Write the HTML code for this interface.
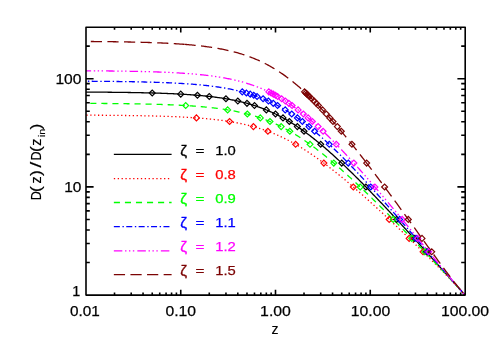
<!DOCTYPE html>
<html><head><meta charset="utf-8"><title>Growth factor</title>
<style>html,body{margin:0;padding:0;background:#fff}body{width:491px;height:350px;overflow:hidden;font-family:"Liberation Sans",sans-serif}</style></head>
<body>
<svg width="491" height="350" viewBox="0 0 491 350" style="display:block;will-change:transform">
<rect width="491" height="350" fill="#fff"/>
<g fill="none" stroke-width="1.3" stroke-linejoin="round">
<path d="M86.00 92.07 L87.06 92.08 L88.11 92.09 L89.17 92.09 L90.22 92.10 L91.28 92.10 L92.33 92.11 L93.39 92.12 L94.45 92.12 L95.50 92.13 L96.56 92.14 L97.61 92.15 L98.67 92.15 L99.72 92.16 L100.78 92.17 L101.84 92.18 L102.89 92.19 L103.95 92.20 L105.00 92.21 L106.06 92.22 L107.11 92.22 L108.17 92.23 L109.23 92.24 L110.28 92.26 L111.34 92.27 L112.39 92.28 L113.45 92.29 L114.50 92.30 L115.56 92.31 L116.62 92.32 L117.67 92.34 L118.73 92.35 L119.78 92.36 L120.84 92.37 L121.89 92.39 L122.95 92.40 L124.01 92.42 L125.06 92.43 L126.12 92.45 L127.17 92.46 L128.23 92.48 L129.28 92.50 L130.34 92.51 L131.40 92.53 L132.45 92.55 L133.51 92.57 L134.56 92.58 L135.62 92.60 L136.67 92.62 L137.73 92.64 L138.79 92.66 L139.84 92.69 L140.90 92.71 L141.95 92.73 L143.01 92.75 L144.06 92.78 L145.12 92.80 L146.18 92.83 L147.23 92.85 L148.29 92.88 L149.34 92.90 L150.40 92.93 L151.45 92.96 L152.51 92.99 L153.57 93.02 L154.62 93.05 L155.68 93.08 L156.73 93.11 L157.79 93.15 L158.84 93.18 L159.90 93.22 L160.96 93.25 L162.01 93.29 L163.07 93.33 L164.12 93.36 L165.18 93.40 L166.23 93.44 L167.29 93.49 L168.35 93.53 L169.40 93.57 L170.46 93.62 L171.51 93.66 L172.57 93.71 L173.62 93.76 L174.68 93.81 L175.74 93.86 L176.79 93.92 L177.85 93.97 L178.90 94.03 L179.96 94.08 L181.01 94.14 L182.07 94.20 L183.13 94.26 L184.18 94.33 L185.24 94.39 L186.29 94.46 L187.35 94.53 L188.40 94.60 L189.46 94.67 L190.52 94.74 L191.57 94.82 L192.63 94.90 L193.68 94.98 L194.74 95.06 L195.79 95.14 L196.85 95.23 L197.91 95.32 L198.96 95.41 L200.02 95.50 L201.07 95.60 L202.13 95.70 L203.18 95.80 L204.24 95.90 L205.30 96.01 L206.35 96.12 L207.41 96.23 L208.46 96.34 L209.52 96.46 L210.57 96.58 L211.63 96.71 L212.69 96.83 L213.74 96.96 L214.80 97.10 L215.85 97.24 L216.91 97.38 L217.96 97.52 L219.02 97.67 L220.08 97.82 L221.13 97.98 L222.19 98.14 L223.24 98.31 L224.30 98.47 L225.35 98.65 L226.41 98.82 L227.47 99.01 L228.52 99.19 L229.58 99.38 L230.63 99.58 L231.69 99.78 L232.74 99.99 L233.80 100.20 L234.86 100.42 L235.91 100.64 L236.97 100.87 L238.02 101.10 L239.08 101.34 L240.13 101.58 L241.19 101.84 L242.25 102.09 L243.30 102.36 L244.36 102.63 L245.41 102.90 L246.47 103.19 L247.52 103.48 L248.58 103.77 L249.64 104.08 L250.69 104.39 L251.75 104.70 L252.80 105.03 L253.86 105.36 L254.91 105.70 L255.97 106.05 L257.03 106.41 L258.08 106.77 L259.14 107.14 L260.19 107.52 L261.25 107.91 L262.30 108.31 L263.36 108.71 L264.42 109.13 L265.47 109.55 L266.53 109.98 L267.58 110.42 L268.64 110.87 L269.69 111.32 L270.75 111.79 L271.81 112.27 L272.86 112.75 L273.92 113.24 L274.97 113.75 L276.03 114.26 L277.08 114.78 L278.14 115.31 L279.19 115.86 L280.25 116.41 L281.31 116.97 L282.36 117.53 L283.42 118.11 L284.47 118.70 L285.53 119.30 L286.58 119.91 L287.64 120.52 L288.70 121.15 L289.75 121.78 L290.81 122.43 L291.86 123.08 L292.92 123.75 L293.97 124.42 L295.03 125.10 L296.09 125.79 L297.14 126.49 L298.20 127.20 L299.25 127.92 L300.31 128.65 L301.36 129.38 L302.42 130.13 L303.48 130.88 L304.53 131.64 L305.59 132.41 L306.64 133.19 L307.70 133.98 L308.75 134.77 L309.81 135.58 L310.87 136.39 L311.92 137.21 L312.98 138.03 L314.03 138.87 L315.09 139.71 L316.14 140.56 L317.20 141.41 L318.26 142.27 L319.31 143.15 L320.37 144.02 L321.42 144.91 L322.48 145.80 L323.53 146.69 L324.59 147.60 L325.65 148.51 L326.70 149.43 L327.76 150.35 L328.81 151.28 L329.87 152.21 L330.92 153.15 L331.98 154.10 L333.04 155.05 L334.09 156.01 L335.15 156.97 L336.20 157.94 L337.26 158.91 L338.31 159.89 L339.37 160.87 L340.43 161.86 L341.48 162.85 L342.54 163.85 L343.59 164.85 L344.65 165.86 L345.70 166.87 L346.76 167.89 L347.82 168.91 L348.87 169.93 L349.93 170.96 L350.98 171.99 L352.04 173.03 L353.09 174.07 L354.15 175.11 L355.21 176.16 L356.26 177.21 L357.32 178.26 L358.37 179.32 L359.43 180.38 L360.48 181.44 L361.54 182.51 L362.60 183.58 L363.65 184.65 L364.71 185.73 L365.76 186.81 L366.82 187.89 L367.87 188.98 L368.93 190.06 L369.99 191.15 L371.04 192.25 L372.10 193.34 L373.15 194.44 L374.21 195.54 L375.26 196.64 L376.32 197.75 L377.38 198.86 L378.43 199.96 L379.49 201.08 L380.54 202.19 L381.60 203.31 L382.65 204.42 L383.71 205.54 L384.77 206.66 L385.82 207.79 L386.88 208.91 L387.93 210.04 L388.99 211.17 L390.04 212.30 L391.10 213.43 L392.16 214.56 L393.21 215.70 L394.27 216.84 L395.32 217.97 L396.38 219.11 L397.43 220.25 L398.49 221.40 L399.55 222.54 L400.60 223.68 L401.66 224.83 L402.71 225.98 L403.77 227.13 L404.82 228.28 L405.88 229.43 L406.94 230.58 L407.99 231.73 L409.05 232.89 L410.10 234.04 L411.16 235.20 L412.21 236.35 L413.27 237.51 L414.33 238.67 L415.38 239.83 L416.44 240.99 L417.49 242.15 L418.55 243.32 L419.60 244.48 L420.66 245.64 L421.72 246.81 L422.77 247.97 L423.83 249.14 L424.88 250.30 L425.94 251.47 L426.99 252.64 L428.05 253.81 L429.11 254.98 L430.16 256.15 L431.22 257.32 L432.27 258.49 L433.33 259.66 L434.38 260.83 L435.44 262.01 L436.50 263.18 L437.55 264.35 L438.61 265.53 L439.66 266.70 L440.72 267.88 L441.77 269.06 L442.83 270.23 L443.89 271.41 L444.94 272.59 L446.00 273.77 L447.05 274.95 L448.11 276.13 L449.16 277.31 L450.22 278.49 L451.28 279.67 L452.33 280.85 L453.39 282.03 L454.44 283.22 L455.50 284.40 L456.55 285.59 L457.61 286.77 L458.67 287.96 L459.72 289.15 L460.78 290.34 L461.83 291.52 L462.89 292.72 L463.94 293.91 L465.00 295.10" stroke="#000000"/>
<path d="M86.00 115.17 L87.06 115.17 L88.11 115.18 L89.17 115.18 L90.22 115.19 L91.28 115.19 L92.33 115.20 L93.39 115.20 L94.45 115.21 L95.50 115.22 L96.56 115.22 L97.61 115.23 L98.67 115.24 L99.72 115.24 L100.78 115.25 L101.84 115.26 L102.89 115.27 L103.95 115.27 L105.00 115.28 L106.06 115.29 L107.11 115.30 L108.17 115.31 L109.23 115.32 L110.28 115.32 L111.34 115.33 L112.39 115.34 L113.45 115.35 L114.50 115.36 L115.56 115.37 L116.62 115.38 L117.67 115.39 L118.73 115.41 L119.78 115.42 L120.84 115.43 L121.89 115.44 L122.95 115.45 L124.01 115.47 L125.06 115.48 L126.12 115.49 L127.17 115.51 L128.23 115.52 L129.28 115.53 L130.34 115.55 L131.40 115.56 L132.45 115.58 L133.51 115.59 L134.56 115.61 L135.62 115.63 L136.67 115.65 L137.73 115.66 L138.79 115.68 L139.84 115.70 L140.90 115.72 L141.95 115.74 L143.01 115.76 L144.06 115.78 L145.12 115.80 L146.18 115.82 L147.23 115.84 L148.29 115.87 L149.34 115.89 L150.40 115.91 L151.45 115.94 L152.51 115.96 L153.57 115.99 L154.62 116.02 L155.68 116.04 L156.73 116.07 L157.79 116.10 L158.84 116.13 L159.90 116.16 L160.96 116.19 L162.01 116.22 L163.07 116.26 L164.12 116.29 L165.18 116.33 L166.23 116.36 L167.29 116.40 L168.35 116.43 L169.40 116.47 L170.46 116.51 L171.51 116.55 L172.57 116.59 L173.62 116.64 L174.68 116.68 L175.74 116.72 L176.79 116.77 L177.85 116.82 L178.90 116.87 L179.96 116.92 L181.01 116.97 L182.07 117.02 L183.13 117.07 L184.18 117.13 L185.24 117.19 L186.29 117.24 L187.35 117.30 L188.40 117.36 L189.46 117.43 L190.52 117.49 L191.57 117.56 L192.63 117.63 L193.68 117.69 L194.74 117.77 L195.79 117.84 L196.85 117.92 L197.91 117.99 L198.96 118.07 L200.02 118.15 L201.07 118.24 L202.13 118.32 L203.18 118.41 L204.24 118.50 L205.30 118.59 L206.35 118.69 L207.41 118.79 L208.46 118.89 L209.52 118.99 L210.57 119.09 L211.63 119.20 L212.69 119.31 L213.74 119.43 L214.80 119.55 L215.85 119.67 L216.91 119.79 L217.96 119.91 L219.02 120.04 L220.08 120.18 L221.13 120.31 L222.19 120.45 L223.24 120.60 L224.30 120.74 L225.35 120.89 L226.41 121.05 L227.47 121.21 L228.52 121.37 L229.58 121.54 L230.63 121.71 L231.69 121.88 L232.74 122.06 L233.80 122.25 L234.86 122.44 L235.91 122.63 L236.97 122.83 L238.02 123.03 L239.08 123.24 L240.13 123.46 L241.19 123.68 L242.25 123.90 L243.30 124.13 L244.36 124.37 L245.41 124.61 L246.47 124.85 L247.52 125.11 L248.58 125.37 L249.64 125.63 L250.69 125.90 L251.75 126.18 L252.80 126.46 L253.86 126.75 L254.91 127.05 L255.97 127.35 L257.03 127.66 L258.08 127.98 L259.14 128.31 L260.19 128.64 L261.25 128.98 L262.30 129.32 L263.36 129.68 L264.42 130.04 L265.47 130.40 L266.53 130.78 L267.58 131.16 L268.64 131.56 L269.69 131.96 L270.75 132.36 L271.81 132.78 L272.86 133.20 L273.92 133.63 L274.97 134.07 L276.03 134.52 L277.08 134.97 L278.14 135.44 L279.19 135.91 L280.25 136.39 L281.31 136.88 L282.36 137.38 L283.42 137.88 L284.47 138.40 L285.53 138.92 L286.58 139.45 L287.64 139.99 L288.70 140.53 L289.75 141.09 L290.81 141.65 L291.86 142.22 L292.92 142.80 L293.97 143.39 L295.03 143.99 L296.09 144.59 L297.14 145.20 L298.20 145.82 L299.25 146.45 L300.31 147.08 L301.36 147.73 L302.42 148.38 L303.48 149.03 L304.53 149.70 L305.59 150.37 L306.64 151.05 L307.70 151.74 L308.75 152.43 L309.81 153.13 L310.87 153.84 L311.92 154.56 L312.98 155.28 L314.03 156.01 L315.09 156.74 L316.14 157.48 L317.20 158.23 L318.26 158.99 L319.31 159.75 L320.37 160.51 L321.42 161.28 L322.48 162.06 L323.53 162.85 L324.59 163.64 L325.65 164.43 L326.70 165.23 L327.76 166.04 L328.81 166.85 L329.87 167.67 L330.92 168.49 L331.98 169.32 L333.04 170.15 L334.09 170.98 L335.15 171.82 L336.20 172.67 L337.26 173.52 L338.31 174.38 L339.37 175.23 L340.43 176.10 L341.48 176.97 L342.54 177.84 L343.59 178.71 L344.65 179.59 L345.70 180.48 L346.76 181.36 L347.82 182.25 L348.87 183.15 L349.93 184.05 L350.98 184.95 L352.04 185.85 L353.09 186.76 L354.15 187.67 L355.21 188.59 L356.26 189.51 L357.32 190.43 L358.37 191.35 L359.43 192.28 L360.48 193.21 L361.54 194.14 L362.60 195.08 L363.65 196.02 L364.71 196.96 L365.76 197.90 L366.82 198.85 L367.87 199.80 L368.93 200.75 L369.99 201.70 L371.04 202.66 L372.10 203.61 L373.15 204.57 L374.21 205.54 L375.26 206.50 L376.32 207.47 L377.38 208.44 L378.43 209.41 L379.49 210.38 L380.54 211.35 L381.60 212.33 L382.65 213.31 L383.71 214.29 L384.77 215.27 L385.82 216.25 L386.88 217.24 L387.93 218.22 L388.99 219.21 L390.04 220.20 L391.10 221.19 L392.16 222.19 L393.21 223.18 L394.27 224.18 L395.32 225.17 L396.38 226.17 L397.43 227.17 L398.49 228.18 L399.55 229.18 L400.60 230.18 L401.66 231.19 L402.71 232.20 L403.77 233.21 L404.82 234.22 L405.88 235.23 L406.94 236.24 L407.99 237.25 L409.05 238.27 L410.10 239.29 L411.16 240.30 L412.21 241.32 L413.27 242.34 L414.33 243.36 L415.38 244.39 L416.44 245.41 L417.49 246.44 L418.55 247.46 L419.60 248.49 L420.66 249.52 L421.72 250.55 L422.77 251.59 L423.83 252.62 L424.88 253.66 L425.94 254.69 L426.99 255.73 L428.05 256.77 L429.11 257.82 L430.16 258.86 L431.22 259.91 L432.27 260.95 L433.33 262.00 L434.38 263.05 L435.44 264.11 L436.50 265.16 L437.55 266.22 L438.61 267.28 L439.66 268.35 L440.72 269.41 L441.77 270.48 L442.83 271.55 L443.89 272.63 L444.94 273.70 L446.00 274.78 L447.05 275.87 L448.11 276.96 L449.16 278.05 L450.22 279.15 L451.28 280.25 L452.33 281.35 L453.39 282.46 L454.44 283.58 L455.50 284.70 L456.55 285.83 L457.61 286.96 L458.67 288.10 L459.72 289.25 L460.78 290.40 L461.83 291.56 L462.89 292.73 L463.94 293.91 L465.00 295.10" stroke="#ff0000" stroke-dasharray="1.3 2.56" stroke-dashoffset="3.46"/>
<path d="M86.00 103.36 L87.06 103.37 L88.11 103.38 L89.17 103.38 L90.22 103.39 L91.28 103.39 L92.33 103.40 L93.39 103.41 L94.45 103.41 L95.50 103.42 L96.56 103.43 L97.61 103.43 L98.67 103.44 L99.72 103.45 L100.78 103.46 L101.84 103.46 L102.89 103.47 L103.95 103.48 L105.00 103.49 L106.06 103.50 L107.11 103.51 L108.17 103.52 L109.23 103.53 L110.28 103.53 L111.34 103.54 L112.39 103.56 L113.45 103.57 L114.50 103.58 L115.56 103.59 L116.62 103.60 L117.67 103.61 L118.73 103.62 L119.78 103.63 L120.84 103.65 L121.89 103.66 L122.95 103.67 L124.01 103.69 L125.06 103.70 L126.12 103.71 L127.17 103.73 L128.23 103.74 L129.28 103.76 L130.34 103.78 L131.40 103.79 L132.45 103.81 L133.51 103.83 L134.56 103.84 L135.62 103.86 L136.67 103.88 L137.73 103.90 L138.79 103.92 L139.84 103.94 L140.90 103.96 L141.95 103.98 L143.01 104.00 L144.06 104.02 L145.12 104.05 L146.18 104.07 L147.23 104.09 L148.29 104.12 L149.34 104.14 L150.40 104.17 L151.45 104.20 L152.51 104.22 L153.57 104.25 L154.62 104.28 L155.68 104.31 L156.73 104.34 L157.79 104.37 L158.84 104.40 L159.90 104.43 L160.96 104.47 L162.01 104.50 L163.07 104.54 L164.12 104.57 L165.18 104.61 L166.23 104.65 L167.29 104.69 L168.35 104.73 L169.40 104.77 L170.46 104.81 L171.51 104.86 L172.57 104.90 L173.62 104.95 L174.68 104.99 L175.74 105.04 L176.79 105.09 L177.85 105.14 L178.90 105.19 L179.96 105.25 L181.01 105.30 L182.07 105.36 L183.13 105.42 L184.18 105.48 L185.24 105.54 L186.29 105.60 L187.35 105.66 L188.40 105.73 L189.46 105.80 L190.52 105.87 L191.57 105.94 L192.63 106.01 L193.68 106.09 L194.74 106.16 L195.79 106.24 L196.85 106.32 L197.91 106.41 L198.96 106.49 L200.02 106.58 L201.07 106.67 L202.13 106.76 L203.18 106.86 L204.24 106.95 L205.30 107.05 L206.35 107.15 L207.41 107.26 L208.46 107.37 L209.52 107.48 L210.57 107.59 L211.63 107.71 L212.69 107.83 L213.74 107.95 L214.80 108.08 L215.85 108.20 L216.91 108.34 L217.96 108.47 L219.02 108.61 L220.08 108.75 L221.13 108.90 L222.19 109.05 L223.24 109.21 L224.30 109.36 L225.35 109.53 L226.41 109.69 L227.47 109.86 L228.52 110.04 L229.58 110.22 L230.63 110.40 L231.69 110.59 L232.74 110.78 L233.80 110.98 L234.86 111.19 L235.91 111.39 L236.97 111.61 L238.02 111.83 L239.08 112.05 L240.13 112.28 L241.19 112.52 L242.25 112.76 L243.30 113.01 L244.36 113.26 L245.41 113.52 L246.47 113.78 L247.52 114.05 L248.58 114.33 L249.64 114.62 L250.69 114.91 L251.75 115.21 L252.80 115.51 L253.86 115.82 L254.91 116.14 L255.97 116.47 L257.03 116.80 L258.08 117.14 L259.14 117.49 L260.19 117.85 L261.25 118.21 L262.30 118.59 L263.36 118.97 L264.42 119.35 L265.47 119.75 L266.53 120.15 L267.58 120.57 L268.64 120.99 L269.69 121.42 L270.75 121.85 L271.81 122.30 L272.86 122.75 L273.92 123.22 L274.97 123.69 L276.03 124.17 L277.08 124.66 L278.14 125.16 L279.19 125.67 L280.25 126.18 L281.31 126.71 L282.36 127.24 L283.42 127.79 L284.47 128.34 L285.53 128.90 L286.58 129.47 L287.64 130.05 L288.70 130.63 L289.75 131.23 L290.81 131.84 L291.86 132.45 L292.92 133.07 L293.97 133.70 L295.03 134.34 L296.09 134.99 L297.14 135.65 L298.20 136.31 L299.25 136.99 L300.31 137.67 L301.36 138.36 L302.42 139.06 L303.48 139.77 L304.53 140.48 L305.59 141.20 L306.64 141.93 L307.70 142.67 L308.75 143.42 L309.81 144.17 L310.87 144.93 L311.92 145.70 L312.98 146.48 L314.03 147.26 L315.09 148.05 L316.14 148.85 L317.20 149.65 L318.26 150.46 L319.31 151.28 L320.37 152.10 L321.42 152.93 L322.48 153.76 L323.53 154.61 L324.59 155.46 L325.65 156.31 L326.70 157.17 L327.76 158.04 L328.81 158.91 L329.87 159.78 L330.92 160.67 L331.98 161.55 L333.04 162.45 L334.09 163.35 L335.15 164.25 L336.20 165.16 L337.26 166.07 L338.31 166.99 L339.37 167.91 L340.43 168.84 L341.48 169.77 L342.54 170.71 L343.59 171.65 L344.65 172.59 L345.70 173.54 L346.76 174.50 L347.82 175.45 L348.87 176.41 L349.93 177.38 L350.98 178.35 L352.04 179.32 L353.09 180.30 L354.15 181.27 L355.21 182.26 L356.26 183.24 L357.32 184.23 L358.37 185.23 L359.43 186.22 L360.48 187.22 L361.54 188.22 L362.60 189.23 L363.65 190.23 L364.71 191.24 L365.76 192.26 L366.82 193.27 L367.87 194.29 L368.93 195.31 L369.99 196.34 L371.04 197.36 L372.10 198.39 L373.15 199.42 L374.21 200.45 L375.26 201.49 L376.32 202.53 L377.38 203.57 L378.43 204.61 L379.49 205.65 L380.54 206.70 L381.60 207.74 L382.65 208.79 L383.71 209.85 L384.77 210.90 L385.82 211.95 L386.88 213.01 L387.93 214.07 L388.99 215.13 L390.04 216.19 L391.10 217.25 L392.16 218.32 L393.21 219.39 L394.27 220.45 L395.32 221.52 L396.38 222.59 L397.43 223.67 L398.49 224.74 L399.55 225.81 L400.60 226.89 L401.66 227.97 L402.71 229.05 L403.77 230.13 L404.82 231.21 L405.88 232.29 L406.94 233.37 L407.99 234.46 L409.05 235.55 L410.10 236.63 L411.16 237.72 L412.21 238.81 L413.27 239.90 L414.33 240.99 L415.38 242.08 L416.44 243.18 L417.49 244.27 L418.55 245.37 L419.60 246.47 L420.66 247.56 L421.72 248.66 L422.77 249.76 L423.83 250.86 L424.88 251.97 L425.94 253.07 L426.99 254.17 L428.05 255.28 L429.11 256.39 L430.16 257.49 L431.22 258.60 L432.27 259.71 L433.33 260.82 L434.38 261.94 L435.44 263.05 L436.50 264.17 L437.55 265.28 L438.61 266.40 L439.66 267.52 L440.72 268.64 L441.77 269.77 L442.83 270.89 L443.89 272.02 L444.94 273.14 L446.00 274.27 L447.05 275.41 L448.11 276.54 L449.16 277.68 L450.22 278.82 L451.28 279.96 L452.33 281.10 L453.39 282.25 L454.44 283.40 L455.50 284.55 L456.55 285.71 L457.61 286.87 L458.67 288.03 L459.72 289.20 L460.78 290.37 L461.83 291.54 L462.89 292.72 L463.94 293.91 L465.00 295.10" stroke="#00ff00" stroke-dasharray="6.1 4.95" stroke-dashoffset="6.75"/>
<path d="M86.00 81.23 L87.06 81.24 L88.11 81.24 L89.17 81.25 L90.22 81.26 L91.28 81.26 L92.33 81.27 L93.39 81.28 L94.45 81.29 L95.50 81.29 L96.56 81.30 L97.61 81.31 L98.67 81.32 L99.72 81.33 L100.78 81.33 L101.84 81.34 L102.89 81.35 L103.95 81.36 L105.00 81.37 L106.06 81.38 L107.11 81.39 L108.17 81.40 L109.23 81.41 L110.28 81.42 L111.34 81.43 L112.39 81.45 L113.45 81.46 L114.50 81.47 L115.56 81.48 L116.62 81.50 L117.67 81.51 L118.73 81.52 L119.78 81.54 L120.84 81.55 L121.89 81.57 L122.95 81.58 L124.01 81.60 L125.06 81.61 L126.12 81.63 L127.17 81.64 L128.23 81.66 L129.28 81.68 L130.34 81.70 L131.40 81.71 L132.45 81.73 L133.51 81.75 L134.56 81.77 L135.62 81.79 L136.67 81.81 L137.73 81.84 L138.79 81.86 L139.84 81.88 L140.90 81.90 L141.95 81.93 L143.01 81.95 L144.06 81.98 L145.12 82.00 L146.18 82.03 L147.23 82.06 L148.29 82.08 L149.34 82.11 L150.40 82.14 L151.45 82.17 L152.51 82.20 L153.57 82.23 L154.62 82.27 L155.68 82.30 L156.73 82.33 L157.79 82.37 L158.84 82.40 L159.90 82.44 L160.96 82.48 L162.01 82.52 L163.07 82.56 L164.12 82.60 L165.18 82.64 L166.23 82.68 L167.29 82.73 L168.35 82.77 L169.40 82.82 L170.46 82.87 L171.51 82.92 L172.57 82.97 L173.62 83.02 L174.68 83.07 L175.74 83.13 L176.79 83.18 L177.85 83.24 L178.90 83.30 L179.96 83.36 L181.01 83.42 L182.07 83.49 L183.13 83.55 L184.18 83.62 L185.24 83.69 L186.29 83.76 L187.35 83.83 L188.40 83.91 L189.46 83.98 L190.52 84.06 L191.57 84.14 L192.63 84.22 L193.68 84.31 L194.74 84.39 L195.79 84.48 L196.85 84.58 L197.91 84.67 L198.96 84.77 L200.02 84.87 L201.07 84.97 L202.13 85.07 L203.18 85.18 L204.24 85.29 L205.30 85.40 L206.35 85.52 L207.41 85.64 L208.46 85.76 L209.52 85.88 L210.57 86.01 L211.63 86.14 L212.69 86.28 L213.74 86.42 L214.80 86.56 L215.85 86.70 L216.91 86.85 L217.96 87.01 L219.02 87.16 L220.08 87.33 L221.13 87.49 L222.19 87.66 L223.24 87.84 L224.30 88.01 L225.35 88.20 L226.41 88.39 L227.47 88.58 L228.52 88.78 L229.58 88.98 L230.63 89.19 L231.69 89.40 L232.74 89.62 L233.80 89.84 L234.86 90.07 L235.91 90.31 L236.97 90.55 L238.02 90.80 L239.08 91.05 L240.13 91.31 L241.19 91.58 L242.25 91.85 L243.30 92.13 L244.36 92.41 L245.41 92.71 L246.47 93.01 L247.52 93.31 L248.58 93.63 L249.64 93.95 L250.69 94.28 L251.75 94.61 L252.80 94.96 L253.86 95.31 L254.91 95.67 L255.97 96.04 L257.03 96.42 L258.08 96.80 L259.14 97.20 L260.19 97.60 L261.25 98.01 L262.30 98.43 L263.36 98.86 L264.42 99.30 L265.47 99.74 L266.53 100.20 L267.58 100.67 L268.64 101.14 L269.69 101.62 L270.75 102.12 L271.81 102.62 L272.86 103.14 L273.92 103.66 L274.97 104.19 L276.03 104.74 L277.08 105.29 L278.14 105.85 L279.19 106.42 L280.25 107.01 L281.31 107.60 L282.36 108.20 L283.42 108.81 L284.47 109.44 L285.53 110.07 L286.58 110.71 L287.64 111.37 L288.70 112.03 L289.75 112.70 L290.81 113.38 L291.86 114.08 L292.92 114.78 L293.97 115.49 L295.03 116.21 L296.09 116.95 L297.14 117.69 L298.20 118.44 L299.25 119.20 L300.31 119.97 L301.36 120.75 L302.42 121.54 L303.48 122.33 L304.53 123.14 L305.59 123.95 L306.64 124.78 L307.70 125.61 L308.75 126.45 L309.81 127.30 L310.87 128.16 L311.92 129.03 L312.98 129.90 L314.03 130.79 L315.09 131.68 L316.14 132.58 L317.20 133.48 L318.26 134.40 L319.31 135.32 L320.37 136.25 L321.42 137.18 L322.48 138.12 L323.53 139.07 L324.59 140.03 L325.65 141.00 L326.70 141.97 L327.76 142.94 L328.81 143.93 L329.87 144.92 L330.92 145.91 L331.98 146.91 L333.04 147.92 L334.09 148.93 L335.15 149.95 L336.20 150.98 L337.26 152.01 L338.31 153.04 L339.37 154.08 L340.43 155.13 L341.48 156.18 L342.54 157.24 L343.59 158.30 L344.65 159.36 L345.70 160.44 L346.76 161.51 L347.82 162.59 L348.87 163.67 L349.93 164.76 L350.98 165.85 L352.04 166.95 L353.09 168.05 L354.15 169.16 L355.21 170.26 L356.26 171.38 L357.32 172.49 L358.37 173.61 L359.43 174.73 L360.48 175.86 L361.54 176.99 L362.60 178.12 L363.65 179.26 L364.71 180.40 L365.76 181.54 L366.82 182.69 L367.87 183.83 L368.93 184.99 L369.99 186.14 L371.04 187.30 L372.10 188.46 L373.15 189.62 L374.21 190.78 L375.26 191.95 L376.32 193.12 L377.38 194.29 L378.43 195.46 L379.49 196.64 L380.54 197.82 L381.60 199.00 L382.65 200.18 L383.71 201.37 L384.77 202.55 L385.82 203.74 L386.88 204.93 L387.93 206.13 L388.99 207.32 L390.04 208.52 L391.10 209.71 L392.16 210.91 L393.21 212.11 L394.27 213.32 L395.32 214.52 L396.38 215.73 L397.43 216.93 L398.49 218.14 L399.55 219.35 L400.60 220.56 L401.66 221.77 L402.71 222.99 L403.77 224.20 L404.82 225.42 L405.88 226.63 L406.94 227.85 L407.99 229.07 L409.05 230.29 L410.10 231.51 L411.16 232.73 L412.21 233.95 L413.27 235.17 L414.33 236.40 L415.38 237.62 L416.44 238.85 L417.49 240.07 L418.55 241.30 L419.60 242.53 L420.66 243.75 L421.72 244.98 L422.77 246.21 L423.83 247.44 L424.88 248.67 L425.94 249.90 L426.99 251.13 L428.05 252.36 L429.11 253.59 L430.16 254.82 L431.22 256.05 L432.27 257.28 L433.33 258.51 L434.38 259.74 L435.44 260.97 L436.50 262.20 L437.55 263.43 L438.61 264.66 L439.66 265.89 L440.72 267.12 L441.77 268.35 L442.83 269.58 L443.89 270.81 L444.94 272.04 L446.00 273.26 L447.05 274.49 L448.11 275.71 L449.16 276.94 L450.22 278.16 L451.28 279.38 L452.33 280.60 L453.39 281.82 L454.44 283.04 L455.50 284.25 L456.55 285.47 L457.61 286.68 L458.67 287.89 L459.72 289.10 L460.78 290.30 L461.83 291.51 L462.89 292.71 L463.94 293.90 L465.00 295.10" stroke="#0000ff" stroke-dasharray="6 2.6 1.4 2.4" stroke-dashoffset="6.7"/>
<path d="M86.00 70.79 L87.06 70.79 L88.11 70.80 L89.17 70.81 L90.22 70.81 L91.28 70.82 L92.33 70.83 L93.39 70.84 L94.45 70.84 L95.50 70.85 L96.56 70.86 L97.61 70.87 L98.67 70.88 L99.72 70.89 L100.78 70.90 L101.84 70.91 L102.89 70.92 L103.95 70.92 L105.00 70.94 L106.06 70.95 L107.11 70.96 L108.17 70.97 L109.23 70.98 L110.28 70.99 L111.34 71.00 L112.39 71.01 L113.45 71.03 L114.50 71.04 L115.56 71.05 L116.62 71.07 L117.67 71.08 L118.73 71.09 L119.78 71.11 L120.84 71.12 L121.89 71.14 L122.95 71.15 L124.01 71.17 L125.06 71.19 L126.12 71.20 L127.17 71.22 L128.23 71.24 L129.28 71.26 L130.34 71.28 L131.40 71.30 L132.45 71.32 L133.51 71.34 L134.56 71.36 L135.62 71.38 L136.67 71.40 L137.73 71.42 L138.79 71.45 L139.84 71.47 L140.90 71.50 L141.95 71.52 L143.01 71.55 L144.06 71.57 L145.12 71.60 L146.18 71.63 L147.23 71.66 L148.29 71.69 L149.34 71.72 L150.40 71.75 L151.45 71.78 L152.51 71.81 L153.57 71.84 L154.62 71.88 L155.68 71.91 L156.73 71.95 L157.79 71.99 L158.84 72.02 L159.90 72.06 L160.96 72.10 L162.01 72.14 L163.07 72.19 L164.12 72.23 L165.18 72.27 L166.23 72.32 L167.29 72.37 L168.35 72.41 L169.40 72.46 L170.46 72.51 L171.51 72.57 L172.57 72.62 L173.62 72.67 L174.68 72.73 L175.74 72.79 L176.79 72.85 L177.85 72.91 L178.90 72.97 L179.96 73.03 L181.01 73.10 L182.07 73.16 L183.13 73.23 L184.18 73.30 L185.24 73.38 L186.29 73.45 L187.35 73.53 L188.40 73.61 L189.46 73.69 L190.52 73.77 L191.57 73.85 L192.63 73.94 L193.68 74.03 L194.74 74.12 L195.79 74.22 L196.85 74.31 L197.91 74.41 L198.96 74.51 L200.02 74.62 L201.07 74.73 L202.13 74.84 L203.18 74.95 L204.24 75.06 L205.30 75.18 L206.35 75.30 L207.41 75.43 L208.46 75.56 L209.52 75.69 L210.57 75.82 L211.63 75.96 L212.69 76.11 L213.74 76.25 L214.80 76.40 L215.85 76.56 L216.91 76.71 L217.96 76.87 L219.02 77.04 L220.08 77.21 L221.13 77.39 L222.19 77.56 L223.24 77.75 L224.30 77.94 L225.35 78.13 L226.41 78.33 L227.47 78.53 L228.52 78.74 L229.58 78.95 L230.63 79.17 L231.69 79.40 L232.74 79.63 L233.80 79.86 L234.86 80.11 L235.91 80.35 L236.97 80.61 L238.02 80.87 L239.08 81.14 L240.13 81.41 L241.19 81.69 L242.25 81.98 L243.30 82.27 L244.36 82.57 L245.41 82.88 L246.47 83.20 L247.52 83.52 L248.58 83.85 L249.64 84.19 L250.69 84.54 L251.75 84.89 L252.80 85.25 L253.86 85.63 L254.91 86.01 L255.97 86.39 L257.03 86.79 L258.08 87.20 L259.14 87.61 L260.19 88.04 L261.25 88.47 L262.30 88.91 L263.36 89.36 L264.42 89.82 L265.47 90.29 L266.53 90.78 L267.58 91.27 L268.64 91.77 L269.69 92.28 L270.75 92.80 L271.81 93.33 L272.86 93.87 L273.92 94.42 L274.97 94.98 L276.03 95.55 L277.08 96.13 L278.14 96.73 L279.19 97.33 L280.25 97.94 L281.31 98.57 L282.36 99.20 L283.42 99.85 L284.47 100.50 L285.53 101.17 L286.58 101.85 L287.64 102.54 L288.70 103.23 L289.75 103.94 L290.81 104.66 L291.86 105.39 L292.92 106.13 L293.97 106.88 L295.03 107.64 L296.09 108.41 L297.14 109.19 L298.20 109.98 L299.25 110.79 L300.31 111.60 L301.36 112.42 L302.42 113.25 L303.48 114.09 L304.53 114.94 L305.59 115.79 L306.64 116.66 L307.70 117.54 L308.75 118.42 L309.81 119.32 L310.87 120.22 L311.92 121.14 L312.98 122.06 L314.03 122.99 L315.09 123.93 L316.14 124.87 L317.20 125.83 L318.26 126.79 L319.31 127.76 L320.37 128.74 L321.42 129.72 L322.48 130.72 L323.53 131.72 L324.59 132.72 L325.65 133.74 L326.70 134.76 L327.76 135.79 L328.81 136.82 L329.87 137.87 L330.92 138.91 L331.98 139.97 L333.04 141.03 L334.09 142.10 L335.15 143.17 L336.20 144.25 L337.26 145.34 L338.31 146.43 L339.37 147.52 L340.43 148.62 L341.48 149.73 L342.54 150.84 L343.59 151.96 L344.65 153.08 L345.70 154.21 L346.76 155.34 L347.82 156.48 L348.87 157.62 L349.93 158.76 L350.98 159.92 L352.04 161.07 L353.09 162.23 L354.15 163.39 L355.21 164.56 L356.26 165.73 L357.32 166.90 L358.37 168.08 L359.43 169.27 L360.48 170.45 L361.54 171.64 L362.60 172.83 L363.65 174.03 L364.71 175.23 L365.76 176.43 L366.82 177.64 L367.87 178.85 L368.93 180.06 L369.99 181.27 L371.04 182.49 L372.10 183.71 L373.15 184.94 L374.21 186.16 L375.26 187.39 L376.32 188.62 L377.38 189.86 L378.43 191.09 L379.49 192.33 L380.54 193.57 L381.60 194.82 L382.65 196.06 L383.71 197.31 L384.77 198.56 L385.82 199.81 L386.88 201.06 L387.93 202.32 L388.99 203.58 L390.04 204.83 L391.10 206.09 L392.16 207.36 L393.21 208.62 L394.27 209.89 L395.32 211.15 L396.38 212.42 L397.43 213.69 L398.49 214.96 L399.55 216.24 L400.60 217.51 L401.66 218.79 L402.71 220.06 L403.77 221.34 L404.82 222.62 L405.88 223.90 L406.94 225.18 L407.99 226.46 L409.05 227.74 L410.10 229.03 L411.16 230.31 L412.21 231.60 L413.27 232.88 L414.33 234.17 L415.38 235.46 L416.44 236.75 L417.49 238.03 L418.55 239.32 L419.60 240.61 L420.66 241.90 L421.72 243.19 L422.77 244.48 L423.83 245.77 L424.88 247.06 L425.94 248.35 L426.99 249.64 L428.05 250.93 L429.11 252.22 L430.16 253.51 L431.22 254.80 L432.27 256.09 L433.33 257.38 L434.38 258.67 L435.44 259.95 L436.50 261.24 L437.55 262.52 L438.61 263.81 L439.66 265.09 L440.72 266.37 L441.77 267.65 L442.83 268.93 L443.89 270.21 L444.94 271.49 L446.00 272.76 L447.05 274.03 L448.11 275.30 L449.16 276.57 L450.22 277.83 L451.28 279.09 L452.33 280.35 L453.39 281.61 L454.44 282.86 L455.50 284.10 L456.55 285.35 L457.61 286.58 L458.67 287.82 L459.72 289.05 L460.78 290.27 L461.83 291.49 L462.89 292.70 L463.94 293.90 L465.00 295.10" stroke="#ff00ff" stroke-dasharray="8.5 2.7 1.4 2.5 1.4 2.5 1.4 3.1" stroke-dashoffset="3.4"/>
<path d="M86.00 41.46 L87.06 41.47 L88.11 41.48 L89.17 41.48 L90.22 41.49 L91.28 41.50 L92.33 41.51 L93.39 41.52 L94.45 41.53 L95.50 41.54 L96.56 41.55 L97.61 41.56 L98.67 41.57 L99.72 41.58 L100.78 41.59 L101.84 41.60 L102.89 41.61 L103.95 41.62 L105.00 41.63 L106.06 41.64 L107.11 41.66 L108.17 41.67 L109.23 41.68 L110.28 41.69 L111.34 41.71 L112.39 41.72 L113.45 41.74 L114.50 41.75 L115.56 41.77 L116.62 41.78 L117.67 41.80 L118.73 41.81 L119.78 41.83 L120.84 41.85 L121.89 41.86 L122.95 41.88 L124.01 41.90 L125.06 41.92 L126.12 41.94 L127.17 41.96 L128.23 41.98 L129.28 42.00 L130.34 42.02 L131.40 42.05 L132.45 42.07 L133.51 42.09 L134.56 42.12 L135.62 42.14 L136.67 42.16 L137.73 42.19 L138.79 42.22 L139.84 42.24 L140.90 42.27 L141.95 42.30 L143.01 42.33 L144.06 42.36 L145.12 42.39 L146.18 42.42 L147.23 42.46 L148.29 42.49 L149.34 42.52 L150.40 42.56 L151.45 42.60 L152.51 42.63 L153.57 42.67 L154.62 42.71 L155.68 42.75 L156.73 42.79 L157.79 42.83 L158.84 42.88 L159.90 42.92 L160.96 42.97 L162.01 43.01 L163.07 43.06 L164.12 43.11 L165.18 43.16 L166.23 43.21 L167.29 43.27 L168.35 43.32 L169.40 43.38 L170.46 43.44 L171.51 43.50 L172.57 43.56 L173.62 43.62 L174.68 43.68 L175.74 43.75 L176.79 43.82 L177.85 43.89 L178.90 43.96 L179.96 44.03 L181.01 44.10 L182.07 44.18 L183.13 44.26 L184.18 44.34 L184.50 44.37" stroke="#7c0404" stroke-dasharray="11.2 5.4" stroke-dashoffset="11.8"/>
<path d="M184.50 44.37 L185.24 44.42 L186.29 44.51 L187.35 44.60 L188.40 44.69 L189.46 44.78 L190.52 44.87 L191.57 44.97 L192.63 45.07 L193.68 45.17 L194.74 45.28 L195.79 45.38 L196.85 45.49 L197.91 45.61 L198.96 45.72 L200.02 45.84 L201.07 45.96 L202.13 46.09 L203.18 46.22 L204.24 46.35 L205.30 46.49 L206.35 46.63 L207.41 46.77 L208.46 46.92 L209.52 47.07 L210.57 47.22 L211.63 47.38 L212.69 47.54 L213.74 47.71 L214.80 47.88 L215.85 48.06 L216.91 48.24 L217.96 48.42 L219.02 48.61 L220.08 48.80 L221.13 49.00 L222.19 49.21 L223.24 49.42 L224.30 49.63 L225.35 49.85 L226.41 50.08 L227.47 50.31 L228.52 50.55 L229.58 50.80 L230.63 51.05 L231.69 51.30 L232.74 51.56 L233.80 51.83 L234.86 52.11 L235.91 52.39 L236.97 52.68 L238.02 52.98 L239.08 53.29 L240.13 53.60 L241.19 53.92 L242.25 54.25 L243.30 54.58 L244.36 54.93 L245.41 55.28 L246.47 55.64 L247.52 56.01 L248.58 56.39 L249.64 56.77 L250.69 57.17 L251.75 57.57 L252.80 57.99 L253.86 58.41 L254.91 58.85 L255.97 59.29 L257.03 59.74 L258.08 60.20 L259.14 60.68 L260.19 61.16 L261.25 61.66 L262.30 62.16 L263.36 62.68 L264.42 63.20 L265.47 63.74 L266.53 64.29 L267.58 64.85 L268.64 65.42 L269.69 66.00 L270.75 66.59 L271.81 67.20 L272.86 67.82 L273.92 68.45 L274.97 69.09 L276.03 69.74 L277.08 70.40 L278.14 71.08 L279.19 71.77 L280.25 72.47 L281.31 73.18 L282.36 73.90 L283.42 74.64 L284.47 75.39 L285.53 76.15 L286.58 76.92 L287.64 77.70 L288.70 78.50 L289.75 79.31 L290.81 80.13 L291.86 80.96 L292.92 81.80 L293.97 82.66 L295.03 83.53 L296.09 84.41 L297.14 85.30 L298.20 86.20 L299.25 87.11 L300.31 88.03 L301.36 88.97 L302.42 89.92 L303.48 90.87 L304.53 91.84 L305.59 92.82 L306.64 93.81 L307.70 94.81 L308.75 95.82 L309.81 96.84 L310.87 97.87 L311.92 98.91 L312.98 99.96 L314.03 101.02 L315.09 102.09 L316.14 103.17 L317.20 104.26 L318.26 105.36 L319.31 106.46 L320.37 107.58 L321.42 108.70 L322.48 109.83 L323.53 110.97 L324.59 112.12 L325.65 113.28 L326.70 114.44 L327.76 115.62 L328.81 116.80 L329.87 117.99 L330.92 119.18 L331.98 120.38 L333.04 121.59 L334.09 122.81 L335.15 124.03 L336.20 125.26 L337.26 126.50 L338.31 127.74 L339.37 128.99 L340.43 130.25 L341.48 131.51 L342.54 132.78 L343.59 134.05 L344.65 135.33 L345.70 136.62 L346.76 137.91 L347.82 139.20 L348.87 140.50 L349.93 141.81 L350.98 143.12 L352.04 144.44 L353.09 145.76 L354.15 147.08 L355.21 148.41 L356.26 149.75 L357.32 151.09 L358.37 152.43 L359.43 153.78 L360.48 155.13 L361.54 156.49 L362.60 157.85 L363.65 159.21 L364.71 160.58 L364.90 160.83" stroke="#7c0404" stroke-dasharray="11.2 5.4" stroke-dashoffset="0"/>
<path d="M364.90 160.83 L365.76 161.95 L366.82 163.32 L367.87 164.70 L368.93 166.08 L369.99 167.47 L371.04 168.86 L372.10 170.25 L373.15 171.64 L374.21 173.04 L375.26 174.44 L376.32 175.85 L377.38 177.25 L378.43 178.66 L379.49 180.07 L380.54 181.49 L381.60 182.91 L382.65 184.32 L383.71 185.75 L384.77 187.17 L385.82 188.60 L386.88 190.03 L387.93 191.46 L388.99 192.89 L390.04 194.32 L391.10 195.76 L392.16 197.20 L393.21 198.64 L394.27 200.08 L395.32 201.53 L396.38 202.97 L397.43 204.42 L398.49 205.87 L399.55 207.32 L400.60 208.77 L401.66 210.22 L402.71 211.68 L403.77 213.13 L404.82 214.59 L405.88 216.05 L406.94 217.50 L407.99 218.96 L409.05 220.42 L410.10 221.89 L411.16 223.35 L412.21 224.81 L413.27 226.27 L414.33 227.74 L415.38 229.20 L416.44 230.67 L417.49 232.13 L418.55 233.59 L419.60 235.06 L420.66 236.52 L421.72 237.99 L422.77 239.45 L423.83 240.92 L424.88 242.38 L425.94 243.84 L426.99 245.31 L428.05 246.77 L429.11 248.23 L430.16 249.69 L431.22 251.14 L432.27 252.60 L433.33 254.05 L434.38 255.50 L435.44 256.95 L436.50 258.40 L437.55 259.85 L438.61 261.29 L439.66 262.73 L440.72 264.16 L441.77 265.59 L442.83 267.02 L443.89 268.44 L444.94 269.86 L446.00 271.27 L447.05 272.68 L448.11 274.08 L449.16 275.47 L450.22 276.86 L451.28 278.24 L452.33 279.61 L453.39 280.97 L454.44 282.32 L455.50 283.66 L456.55 284.99 L457.61 286.31 L458.67 287.61 L459.72 288.90 L460.78 290.17 L461.83 291.43 L462.89 292.67 L463.94 293.90 L465.00 295.10" stroke="#7c0404" stroke-dasharray="11.2 5.4" stroke-dashoffset="0"/>
</g>
<g fill="none" stroke-width="1.2" stroke-linejoin="miter">
<path d="M149.28 92.98L152.23 90.03L155.18 92.98L152.23 95.93Z" stroke="#000000"/>
<path d="M177.80 94.13L180.75 91.18L183.70 94.13L180.75 97.08Z" stroke="#000000"/>
<path d="M194.48 95.28L197.43 92.33L200.38 95.28L197.43 98.23Z" stroke="#000000"/>
<path d="M206.32 96.43L209.27 93.48L212.22 96.43L209.27 99.38Z" stroke="#000000"/>
<path d="M223.01 98.75L225.96 95.80L228.91 98.75L225.96 101.70Z" stroke="#000000"/>
<path d="M234.85 101.05L237.80 98.10L240.75 101.05L237.80 104.00Z" stroke="#000000"/>
<path d="M244.03 103.33L246.98 100.38L249.93 103.33L246.98 106.28Z" stroke="#000000"/>
<path d="M251.53 105.56L254.48 102.61L257.43 105.56L254.48 108.51Z" stroke="#000000"/>
<path d="M263.37 109.89L266.32 106.94L269.27 109.89L266.32 112.84Z" stroke="#000000"/>
<path d="M272.55 114.00L275.50 111.05L278.45 114.00L275.50 116.95Z" stroke="#000000"/>
<path d="M280.05 117.88L283.00 114.93L285.95 117.88L283.00 120.83Z" stroke="#000000"/>
<path d="M286.40 121.54L289.35 118.59L292.30 121.54L289.35 124.49Z" stroke="#000000"/>
<path d="M294.39 126.62L297.34 123.67L300.29 126.62L297.34 129.57Z" stroke="#000000"/>
<path d="M301.07 131.27L304.02 128.32L306.97 131.27L304.02 134.22Z" stroke="#000000"/>
<path d="M317.76 144.31L320.71 141.36L323.66 144.31L320.71 147.26Z" stroke="#000000"/>
<path d="M338.78 163.08L341.73 160.13L344.68 163.08L341.73 166.03Z" stroke="#000000"/>
<path d="M362.96 186.96L365.91 184.01L368.86 186.96L365.91 189.91Z" stroke="#000000"/>
<path d="M393.71 219.42L396.66 216.47L399.61 219.42L396.66 222.37Z" stroke="#000000"/>
<path d="M411.11 238.38L414.06 235.43L417.01 238.38L414.06 241.33Z" stroke="#000000"/>
<path d="M423.30 251.82L426.25 248.87L429.20 251.82L426.25 254.77Z" stroke="#000000"/>
<path d="M193.47 117.88L196.42 114.93L199.37 117.88L196.42 120.83Z" stroke="#ff0000"/>
<path d="M226.63 121.54L229.58 118.59L232.53 121.54L229.58 124.49Z" stroke="#ff0000"/>
<path d="M250.44 126.62L253.39 123.67L256.34 126.62L253.39 129.57Z" stroke="#ff0000"/>
<path d="M264.93 131.27L267.88 128.32L270.83 131.27L267.88 134.22Z" stroke="#ff0000"/>
<path d="M292.64 144.31L295.59 141.36L298.54 144.31L295.59 147.26Z" stroke="#ff0000"/>
<path d="M320.90 163.08L323.85 160.13L326.80 163.08L323.85 166.03Z" stroke="#ff0000"/>
<path d="M350.38 186.96L353.33 184.01L356.28 186.96L353.33 189.91Z" stroke="#ff0000"/>
<path d="M386.26 219.42L389.21 216.47L392.16 219.42L389.21 222.37Z" stroke="#ff0000"/>
<path d="M406.21 238.38L409.16 235.43L412.11 238.38L409.16 241.33Z" stroke="#ff0000"/>
<path d="M420.06 251.82L423.01 248.87L425.96 251.82L423.01 254.77Z" stroke="#ff0000"/>
<path d="M182.73 105.56L185.68 102.61L188.63 105.56L185.68 108.51Z" stroke="#00ff00"/>
<path d="M224.69 109.89L227.64 106.94L230.59 109.89L227.64 112.84Z" stroke="#00ff00"/>
<path d="M244.38 114.00L247.33 111.05L250.28 114.00L247.33 116.95Z" stroke="#00ff00"/>
<path d="M257.34 117.88L260.29 114.93L263.24 117.88L260.29 120.83Z" stroke="#00ff00"/>
<path d="M267.04 121.54L269.99 118.59L272.94 121.54L269.99 124.49Z" stroke="#00ff00"/>
<path d="M278.18 126.62L281.13 123.67L284.08 126.62L281.13 129.57Z" stroke="#00ff00"/>
<path d="M286.88 131.27L289.83 128.32L292.78 131.27L289.83 134.22Z" stroke="#00ff00"/>
<path d="M307.05 144.31L310.00 141.36L312.95 144.31L310.00 147.26Z" stroke="#00ff00"/>
<path d="M330.84 163.08L333.79 160.13L336.74 163.08L333.79 166.03Z" stroke="#00ff00"/>
<path d="M357.27 186.96L360.22 184.01L363.17 186.96L360.22 189.91Z" stroke="#00ff00"/>
<path d="M390.29 219.42L393.24 216.47L396.19 219.42L393.24 222.37Z" stroke="#00ff00"/>
<path d="M408.85 238.38L411.80 235.43L414.75 238.38L411.80 241.33Z" stroke="#00ff00"/>
<path d="M421.79 251.82L424.74 248.87L427.69 251.82L424.74 254.77Z" stroke="#00ff00"/>
<path d="M239.29 91.85L242.24 88.90L245.19 91.85L242.24 94.80Z" stroke="#0000ff"/>
<path d="M243.43 92.98L246.38 90.03L249.33 92.98L246.38 95.93Z" stroke="#0000ff"/>
<path d="M247.26 94.13L250.21 91.18L253.16 94.13L250.21 97.08Z" stroke="#0000ff"/>
<path d="M250.81 95.28L253.76 92.33L256.71 95.28L253.76 98.23Z" stroke="#0000ff"/>
<path d="M254.12 96.43L257.07 93.48L260.02 96.43L257.07 99.38Z" stroke="#0000ff"/>
<path d="M260.14 98.75L263.09 95.80L266.04 98.75L263.09 101.70Z" stroke="#0000ff"/>
<path d="M265.49 101.05L268.44 98.10L271.39 101.05L268.44 104.00Z" stroke="#0000ff"/>
<path d="M270.29 103.33L273.24 100.38L276.19 103.33L273.24 106.28Z" stroke="#0000ff"/>
<path d="M274.65 105.56L277.60 102.61L280.55 105.56L277.60 108.51Z" stroke="#0000ff"/>
<path d="M282.28 109.89L285.23 106.94L288.18 109.89L285.23 112.84Z" stroke="#0000ff"/>
<path d="M288.80 114.00L291.75 111.05L294.70 114.00L291.75 116.95Z" stroke="#0000ff"/>
<path d="M294.47 117.88L297.42 114.93L300.37 117.88L297.42 120.83Z" stroke="#0000ff"/>
<path d="M299.47 121.54L302.42 118.59L305.37 121.54L302.42 124.49Z" stroke="#0000ff"/>
<path d="M306.02 126.62L308.97 123.67L311.92 126.62L308.97 129.57Z" stroke="#0000ff"/>
<path d="M311.66 131.27L314.61 128.32L317.56 131.27L314.61 134.22Z" stroke="#0000ff"/>
<path d="M326.27 144.31L329.22 141.36L332.17 144.31L329.22 147.26Z" stroke="#0000ff"/>
<path d="M345.35 163.08L348.30 160.13L351.25 163.08L348.30 166.03Z" stroke="#0000ff"/>
<path d="M367.79 186.96L370.74 184.01L373.69 186.96L370.74 189.91Z" stroke="#0000ff"/>
<path d="M396.66 219.42L399.61 216.47L402.56 219.42L399.61 222.37Z" stroke="#0000ff"/>
<path d="M413.09 238.38L416.04 235.43L418.99 238.38L416.04 241.33Z" stroke="#0000ff"/>
<path d="M424.64 251.82L427.59 248.87L430.54 251.82L427.59 254.77Z" stroke="#0000ff"/>
<path d="M265.86 91.85L268.81 88.90L271.76 91.85L268.81 94.80Z" stroke="#ff00ff"/>
<path d="M268.17 92.98L271.12 90.03L274.07 92.98L271.12 95.93Z" stroke="#ff00ff"/>
<path d="M270.41 94.13L273.36 91.18L276.31 94.13L273.36 97.08Z" stroke="#ff00ff"/>
<path d="M272.57 95.28L275.52 92.33L278.47 95.28L275.52 98.23Z" stroke="#ff00ff"/>
<path d="M274.67 96.43L277.62 93.48L280.57 96.43L277.62 99.38Z" stroke="#ff00ff"/>
<path d="M278.66 98.75L281.61 95.80L284.56 98.75L281.61 101.70Z" stroke="#ff00ff"/>
<path d="M282.39 101.05L285.34 98.10L288.29 101.05L285.34 104.00Z" stroke="#ff00ff"/>
<path d="M285.88 103.33L288.83 100.38L291.78 103.33L288.83 106.28Z" stroke="#ff00ff"/>
<path d="M289.16 105.56L292.11 102.61L295.06 105.56L292.11 108.51Z" stroke="#ff00ff"/>
<path d="M295.13 109.89L298.08 106.94L301.03 109.89L298.08 112.84Z" stroke="#ff00ff"/>
<path d="M300.42 114.00L303.37 111.05L306.32 114.00L303.37 116.95Z" stroke="#ff00ff"/>
<path d="M305.16 117.88L308.11 114.93L311.06 117.88L308.11 120.83Z" stroke="#ff00ff"/>
<path d="M309.44 121.54L312.39 118.59L315.34 121.54L312.39 124.49Z" stroke="#ff00ff"/>
<path d="M315.13 126.62L318.08 123.67L321.03 126.62L318.08 129.57Z" stroke="#ff00ff"/>
<path d="M320.12 131.27L323.07 128.32L326.02 131.27L323.07 134.22Z" stroke="#ff00ff"/>
<path d="M333.31 144.31L336.26 141.36L339.21 144.31L336.26 147.26Z" stroke="#ff00ff"/>
<path d="M350.92 163.08L353.87 160.13L356.82 163.08L353.87 166.03Z" stroke="#ff00ff"/>
<path d="M371.95 186.96L374.90 184.01L377.85 186.96L374.90 189.91Z" stroke="#ff00ff"/>
<path d="M399.23 219.42L402.18 216.47L405.13 219.42L402.18 222.37Z" stroke="#ff00ff"/>
<path d="M414.83 238.38L417.78 235.43L420.73 238.38L417.78 241.33Z" stroke="#ff00ff"/>
<path d="M425.83 251.82L428.78 248.87L431.73 251.82L428.78 254.77Z" stroke="#ff00ff"/>
<path d="M301.59 91.85L304.54 88.90L307.49 91.85L304.54 94.80Z" stroke="#7c0404"/>
<path d="M302.81 92.98L305.76 90.03L308.71 92.98L305.76 95.93Z" stroke="#7c0404"/>
<path d="M304.03 94.13L306.98 91.18L309.93 94.13L306.98 97.08Z" stroke="#7c0404"/>
<path d="M305.24 95.28L308.19 92.33L311.14 95.28L308.19 98.23Z" stroke="#7c0404"/>
<path d="M306.44 96.43L309.39 93.48L312.34 96.43L309.39 99.38Z" stroke="#7c0404"/>
<path d="M308.81 98.75L311.76 95.80L314.71 98.75L311.76 101.70Z" stroke="#7c0404"/>
<path d="M311.11 101.05L314.06 98.10L317.01 101.05L314.06 104.00Z" stroke="#7c0404"/>
<path d="M313.35 103.33L316.30 100.38L319.25 103.33L316.30 106.28Z" stroke="#7c0404"/>
<path d="M315.51 105.56L318.46 102.61L321.41 105.56L318.46 108.51Z" stroke="#7c0404"/>
<path d="M319.58 109.89L322.53 106.94L325.48 109.89L322.53 112.84Z" stroke="#7c0404"/>
<path d="M323.36 114.00L326.31 111.05L329.26 114.00L326.31 116.95Z" stroke="#7c0404"/>
<path d="M326.83 117.88L329.78 114.93L332.73 117.88L329.78 120.83Z" stroke="#7c0404"/>
<path d="M330.04 121.54L332.99 118.59L335.94 121.54L332.99 124.49Z" stroke="#7c0404"/>
<path d="M334.41 126.62L337.36 123.67L340.31 126.62L337.36 129.57Z" stroke="#7c0404"/>
<path d="M338.34 131.27L341.29 128.32L344.24 131.27L341.29 134.22Z" stroke="#7c0404"/>
<path d="M348.98 144.31L351.93 141.36L354.88 144.31L351.93 147.26Z" stroke="#7c0404"/>
<path d="M363.69 163.08L366.64 160.13L369.59 163.08L366.64 166.03Z" stroke="#7c0404"/>
<path d="M381.66 186.96L384.61 184.01L387.56 186.96L384.61 189.91Z" stroke="#7c0404"/>
<path d="M405.37 219.42L408.32 216.47L411.27 219.42L408.32 222.37Z" stroke="#7c0404"/>
<path d="M419.05 238.38L422.00 235.43L424.95 238.38L422.00 241.33Z" stroke="#7c0404"/>
<path d="M428.76 251.82L431.71 248.87L434.66 251.82L431.71 254.77Z" stroke="#7c0404"/>
</g>
<g stroke="#000" stroke-width="1.6" fill="none" stroke-linecap="butt">
<rect x="86.0" y="27.200000000000003" width="379.2" height="267.9" stroke-linejoin="round"/>
<path d="M114.52 295.1v-2.7M114.52 27.1v2.7M131.21 295.1v-2.7M131.21 27.1v2.7M143.05 295.1v-2.7M143.05 27.1v2.7M152.23 295.1v-2.7M152.23 27.1v2.7M159.73 295.1v-2.7M159.73 27.1v2.7M166.07 295.1v-2.7M166.07 27.1v2.7M171.57 295.1v-2.7M171.57 27.1v2.7M176.41 295.1v-2.7M176.41 27.1v2.7M180.75 295.1v-5.4M180.75 27.1v5.4M209.27 295.1v-2.7M209.27 27.1v2.7M225.96 295.1v-2.7M225.96 27.1v2.7M237.80 295.1v-2.7M237.80 27.1v2.7M246.98 295.1v-2.7M246.98 27.1v2.7M254.48 295.1v-2.7M254.48 27.1v2.7M260.82 295.1v-2.7M260.82 27.1v2.7M266.32 295.1v-2.7M266.32 27.1v2.7M271.16 295.1v-2.7M271.16 27.1v2.7M275.50 295.1v-5.4M275.50 27.1v5.4M304.02 295.1v-2.7M304.02 27.1v2.7M320.71 295.1v-2.7M320.71 27.1v2.7M332.55 295.1v-2.7M332.55 27.1v2.7M341.73 295.1v-2.7M341.73 27.1v2.7M349.23 295.1v-2.7M349.23 27.1v2.7M355.57 295.1v-2.7M355.57 27.1v2.7M361.07 295.1v-2.7M361.07 27.1v2.7M365.91 295.1v-2.7M365.91 27.1v2.7M370.25 295.1v-5.4M370.25 27.1v5.4M398.77 295.1v-2.7M398.77 27.1v2.7M415.46 295.1v-2.7M415.46 27.1v2.7M427.30 295.1v-2.7M427.30 27.1v2.7M436.48 295.1v-2.7M436.48 27.1v2.7M443.98 295.1v-2.7M443.98 27.1v2.7M450.32 295.1v-2.7M450.32 27.1v2.7M455.82 295.1v-2.7M455.82 27.1v2.7M460.66 295.1v-2.7M460.66 27.1v2.7M86.0 262.53h3.8M465.0 262.53h-3.8M86.0 243.48h3.8M465.0 243.48h-3.8M86.0 229.96h3.8M465.0 229.96h-3.8M86.0 219.48h3.8M465.0 219.48h-3.8M86.0 210.91h3.8M465.0 210.91h-3.8M86.0 203.67h3.8M465.0 203.67h-3.8M86.0 197.39h3.8M465.0 197.39h-3.8M86.0 191.86h3.8M465.0 191.86h-3.8M86.0 186.91h7.6M465.0 186.91h-7.6M86.0 154.34h3.8M465.0 154.34h-3.8M86.0 135.29h3.8M465.0 135.29h-3.8M86.0 121.77h3.8M465.0 121.77h-3.8M86.0 111.29h3.8M465.0 111.29h-3.8M86.0 102.72h3.8M465.0 102.72h-3.8M86.0 95.48h3.8M465.0 95.48h-3.8M86.0 89.20h3.8M465.0 89.20h-3.8M86.0 83.67h3.8M465.0 83.67h-3.8M86.0 78.72h7.6M465.0 78.72h-7.6M86.0 46.15h3.8M465.0 46.15h-3.8"/>
</g>
<g fill="none" stroke-width="1.3">
<path d="M113.85 154.4H171.6" stroke="#000000"/>
<path d="M113.85 178.55H171.6" stroke="#ff0000" stroke-dasharray="1.3 2.56"/>
<path d="M113.85 202.5H171.6" stroke="#00ff00" stroke-dasharray="6.1 4.95"/>
<path d="M113.85 226.6H171.6" stroke="#0000ff" stroke-dasharray="6 2.6 1.4 2.4"/>
<path d="M113.85 250.8H171.6" stroke="#ff00ff" stroke-dasharray="8.5 2.7 1.4 2.5 1.4 2.5 1.4 3.1"/>
<path d="M113.85 274.6H171.6" stroke="#7c0404" stroke-dasharray="11.2 5.4"/>
</g>
<g font-family="Liberation Sans, sans-serif">
<text x="180.2" y="155.60" fill="#000000" stroke="#000000" stroke-width="0.3" font-size="15.4px">ζ</text>
<text x="195.5" y="154.90" fill="#000000" stroke="#000000" stroke-width="0.3" font-size="13.7px" textLength="8.9" lengthAdjust="spacingAndGlyphs">=</text>
<text x="215.2" y="154.90" fill="#000000" stroke="#000000" stroke-width="0.25" font-size="13.7px" textLength="20.6" lengthAdjust="spacingAndGlyphs">1.0</text>
<text x="180.2" y="179.75" fill="#ff0000" stroke="#ff0000" stroke-width="0.3" font-size="15.4px">ζ</text>
<text x="195.5" y="179.05" fill="#ff0000" stroke="#ff0000" stroke-width="0.3" font-size="13.7px" textLength="8.9" lengthAdjust="spacingAndGlyphs">=</text>
<text x="215.2" y="179.05" fill="#ff0000" stroke="#ff0000" stroke-width="0.25" font-size="13.7px" textLength="20.6" lengthAdjust="spacingAndGlyphs">0.8</text>
<text x="180.2" y="203.70" fill="#00ff00" stroke="#00ff00" stroke-width="0.3" font-size="15.4px">ζ</text>
<text x="195.5" y="203.00" fill="#00ff00" stroke="#00ff00" stroke-width="0.3" font-size="13.7px" textLength="8.9" lengthAdjust="spacingAndGlyphs">=</text>
<text x="215.2" y="203.00" fill="#00ff00" stroke="#00ff00" stroke-width="0.25" font-size="13.7px" textLength="20.6" lengthAdjust="spacingAndGlyphs">0.9</text>
<text x="180.2" y="227.80" fill="#0000ff" stroke="#0000ff" stroke-width="0.3" font-size="15.4px">ζ</text>
<text x="195.5" y="227.10" fill="#0000ff" stroke="#0000ff" stroke-width="0.3" font-size="13.7px" textLength="8.9" lengthAdjust="spacingAndGlyphs">=</text>
<text x="215.2" y="227.10" fill="#0000ff" stroke="#0000ff" stroke-width="0.25" font-size="13.7px" textLength="20.6" lengthAdjust="spacingAndGlyphs">1.1</text>
<text x="180.2" y="252.00" fill="#ff00ff" stroke="#ff00ff" stroke-width="0.3" font-size="15.4px">ζ</text>
<text x="195.5" y="251.30" fill="#ff00ff" stroke="#ff00ff" stroke-width="0.3" font-size="13.7px" textLength="8.9" lengthAdjust="spacingAndGlyphs">=</text>
<text x="215.2" y="251.30" fill="#ff00ff" stroke="#ff00ff" stroke-width="0.25" font-size="13.7px" textLength="20.6" lengthAdjust="spacingAndGlyphs">1.2</text>
<text x="180.2" y="275.80" fill="#7c0404" stroke="#7c0404" stroke-width="0.3" font-size="15.4px">ζ</text>
<text x="195.5" y="275.10" fill="#7c0404" stroke="#7c0404" stroke-width="0.3" font-size="13.7px" textLength="8.9" lengthAdjust="spacingAndGlyphs">=</text>
<text x="215.2" y="275.10" fill="#7c0404" stroke="#7c0404" stroke-width="0.25" font-size="13.7px" textLength="20.6" lengthAdjust="spacingAndGlyphs">1.5</text>
</g>
<g font-family="Liberation Sans, sans-serif" font-size="14.4px" fill="#000" stroke="#000" stroke-width="0.25">
<text x="69.90" y="316.4" textLength="29.8" lengthAdjust="spacingAndGlyphs">0.01</text>
<text x="165.45" y="316.4" textLength="30.6" lengthAdjust="spacingAndGlyphs">0.10</text>
<text x="260.10" y="316.4" textLength="30.8" lengthAdjust="spacingAndGlyphs">1.00</text>
<text x="350.75" y="316.4" textLength="39.4" lengthAdjust="spacingAndGlyphs">10.00</text>
<text x="440.90" y="316.4" textLength="48.2" lengthAdjust="spacingAndGlyphs">100.00</text>
<text x="64.20" y="192.41" textLength="17.2" lengthAdjust="spacingAndGlyphs">10</text>
<text x="55.40" y="84.22" textLength="26.0" lengthAdjust="spacingAndGlyphs">100</text>
<text x="72.3" y="295.5">1</text>
</g>
<text font-family="Liberation Sans, sans-serif" font-size="15.2px" x="271.5" y="334.4" fill="#000" stroke="#000" stroke-width="0.2" textLength="7.0" lengthAdjust="spacingAndGlyphs">z</text>
<text font-family="Liberation Sans, sans-serif" fill="#000" stroke="#000" stroke-width="0.15" transform="translate(41.2 199.2) rotate(-90)"><tspan x="-1.17" y="0" font-size="14.5px" textLength="9.01" lengthAdjust="spacingAndGlyphs">D</tspan><tspan x="7.21" y="0" font-size="14.5px" textLength="5.79" lengthAdjust="spacingAndGlyphs">(</tspan><tspan x="15.79" y="0" font-size="14.5px" textLength="7.25" lengthAdjust="spacingAndGlyphs">z</tspan><tspan x="23.29" y="0" font-size="14.5px" textLength="5.79" lengthAdjust="spacingAndGlyphs">)</tspan><tspan x="31.38" y="0" font-size="14.5px" textLength="6.04" lengthAdjust="spacingAndGlyphs">/</tspan><tspan x="38.73" y="0" font-size="14.5px" textLength="9.01" lengthAdjust="spacingAndGlyphs">D</tspan><tspan x="47.16" y="0" font-size="14.5px" textLength="5.79" lengthAdjust="spacingAndGlyphs">(</tspan><tspan x="53.44" y="0" font-size="14.5px" textLength="7.25" lengthAdjust="spacingAndGlyphs">z</tspan><tspan x="62.00" y="3.7" font-size="9.8px" textLength="2.61" lengthAdjust="spacingAndGlyphs">i</tspan><tspan x="64.35" y="3.7" font-size="9.8px" textLength="5.89" lengthAdjust="spacingAndGlyphs">n</tspan><tspan x="69.79" y="0" font-size="14.5px" textLength="5.79" lengthAdjust="spacingAndGlyphs">)</tspan></text>
</svg>
</body></html>
